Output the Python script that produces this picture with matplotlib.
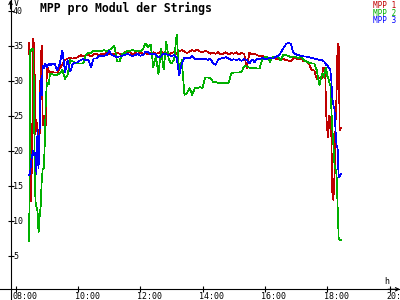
import numpy as np
import matplotlib
matplotlib.use('Agg')
import matplotlib.pyplot as plt
from matplotlib.transforms import ScaledTranslation

# sampling grid: minutes after 08:00
minutes = list(range(26, 70, 2)) + list(range(70, 590, 5)) + list(range(588, 628, 2))

mpp1 = [35.4, 24, 12.8, 23.5, 36.1, 34, 22.3, 24.5, 22.5, 23, 21.7, 33, 35.0, 23.6, 25, 24, 23.6, 31.9, 31.9, 31.3, 31.2, 31.3,
        31.3, 31.2, 31.2, 31.8, 32.4, 33.0, 33.2, 33.3, 33.2, 33.3, 33.4, 33.7,
        33.5, 33.7, 33.8, 33.5, 33.8, 33.9, 33.7, 33.9, 33.8, 34.0, 33.8, 33.9,
        33.8, 34.0, 33.9, 33.8, 34.1, 34.0, 34.1, 33.8, 34.0, 33.9, 34.1, 33.9,
        34.0, 33.8, 34.0, 34.1, 33.9, 34.0, 34.2, 33.9, 34.0, 33.8, 34.0, 34.1,
        33.9, 34.3, 34.4, 34.2, 34.0, 34.2, 34.4, 34.3, 34.5, 34.2, 34.1, 34.3,
        34.2, 33.9, 34.0, 33.9, 34.1, 33.8, 33.9, 34.1, 33.8, 34.0, 33.9, 34.1,
        33.8, 34.0, 33.9, 31.8, 34.0, 33.8, 33.9, 33.7, 33.5, 33.6, 33.3, 33.2,
        33.0, 33.3, 33.2, 33.1, 33.0, 33.2, 33.0, 32.9, 32.8, 33.3, 33.2, 33.1,
        33.2, 32.8, 32.8, 32.4, 31.6, 31.5, 30.3, 30.5,
        30.5, 30.4, 31.9, 31.9, 31.8, 25.4, 23, 22, 25, 24.8, 22, 13.7, 13, 16.5, 23.9, 28, 35.3, 35.3, 23, 23.3]

mpp2 = [7.1, 34.4, 34.3, 34.6, 34.5, 22, 12.8, 12.0, 11.5, 8.3, 10.5, 12, 15.5, 17.5, 17.5, 21, 27.3, 29.7, 29.5, 29.6, 31.1, 31.0,
        31.0, 30.8, 30.9, 31.1, 31.6, 30.3, 30.9, 33.0, 32.8, 32.5, 32.5, 32.5,
        32.5, 33.7, 34.0, 34.0, 34.3, 34.3, 34.3, 34.3, 34.4, 34.3, 34.4, 34.7,
        35.0, 32.8, 32.8, 33.9, 34.0, 34.3, 34.3, 34.4, 34.3, 34.3, 34.2, 34.5,
        35.4, 34.8, 35.2, 32.0, 33.5, 30.9, 34.6, 31.6, 35.6, 33.0, 32.5, 33.0,
        36.6, 31.3, 33.0, 28.0, 28.3, 29.0, 28.0, 29.0, 29.0, 29.1, 29.0, 30.5,
        30.5, 30.4, 29.9, 29.9, 29.7, 29.7, 29.7, 29.7, 29.7, 31.1, 31.2, 31.2,
        31.2, 31.3, 32.1, 32.1, 31.9, 31.9, 31.9, 31.8, 31.8, 33.2, 33.4, 33.4,
        32.7, 33.5, 33.5, 33.5, 32.9, 33.7, 33.7, 33.6, 33.4, 33.5, 33.4, 33.3,
        33.5, 33.0, 32.8, 32.6, 32.5, 32.5, 31.5, 29.4,
        30.5, 31.0, 31.0, 30.5, 31.5, 31.9, 30.7, 30.5, 29.8, 29.5, 26.0, 23.0, 20.8, 18.0, 17.5, 16.7, 12.0, 7.7, 7.3, 7.3]

mpp3 = [16.5, 17.0, 18.6, 19.5, 20.0, 19.4, 19.8, 16.7, 23.0, 17.5, 22.6, 30.4, 28.0, 32.2, 31.8, 32.4, 32.3, 32.0, 32.4, 32.2, 32.4, 32.3,
        32.4, 32.5, 31.5, 32.5, 34.4, 31.2, 33.0, 31.3, 32.5, 32.6, 32.7, 33.0,
        33.1, 33.0, 33.0, 31.9, 33.2, 33.2, 33.6, 33.5, 33.6, 33.7, 34.3, 33.7,
        33.6, 33.4, 33.5, 33.6, 33.7, 33.9, 33.7, 33.6, 33.7, 33.9, 33.6, 33.7,
        34.2, 34.1, 33.8, 33.9, 33.8, 33.4, 33.5, 33.9, 33.8, 33.7, 33.6, 33.7,
        33.4, 30.8, 32.5, 33.3, 33.2, 33.3, 33.6, 33.2, 33.1, 33.2, 33.1, 33.2,
        33.0, 33.2, 32.5, 32.3, 33.1, 33.2, 33.3, 33.4, 33.2, 33.0, 33.1, 33.0,
        33.1, 32.9, 33.1, 33.0, 32.5, 33.1, 32.7, 33.2, 33.1, 33.3, 33.1, 33.2,
        33.3, 33.2, 33.4, 33.6, 34.0, 34.6, 35.2, 35.5, 35.3, 34.0, 33.8, 33.7,
        33.6, 33.5, 33.5, 33.4, 33.3, 33.2, 33.1, 33.0,
        33.0, 33.0, 32.8, 32.8, 32.6, 32.3, 32.3, 32.0, 31.8, 31.6, 30.0, 27.5, 26.5, 26.0, 23.0, 20.8, 20.5, 16.3, 16.4, 16.7]

series_names = ['MPP 1', 'MPP 2', 'MPP 3']
series_colors = ['#c00000', '#00b000', '#0000ff']
y_ticks = [5, 10, 15, 20, 25, 30, 35, 40]
x_ticks = [8, 10, 12, 14, 16, 18, 20]
x_labels = ['08:00', '10:00', '12:00', '14:00', '16:00', '18:00', '20:00']
title = 'MPP pro Modul der Strings'

mono = 'DejaVu Sans Mono'
hours = 8 + np.array(minutes) / 60.0

fig = plt.figure(figsize=(4, 3), dpi=100)
fig.patch.set_facecolor('white')
ax = fig.add_axes([0, 0, 1, 1])
ax.set_facecolor('white')
ax.set_xlim(7.496, 20.337)
ax.set_ylim(-1.286, 41.571)

for vals, c in zip([mpp1, mpp2, mpp3], series_colors):
    ax.plot(hours, vals, color=c, lw=0.5, antialiased=False, solid_joinstyle='miter')

for s in ['top', 'right']:
    ax.spines[s].set_visible(False)
ax.spines['left'].set_position(('axes', 10.5 / 400))
ax.spines['bottom'].set_position(('axes', 10.7 / 300))
for s in ['left', 'bottom']:
    ax.spines[s].set_linewidth(0.8)
    ax.spines[s].set_color('black')

ax.set_yticks(y_ticks)
ax.set_yticklabels([str(v) for v in y_ticks], family=mono, fontsize=6)
ax.set_xticks(x_ticks)
ax.set_xticklabels(x_labels, family=mono, fontsize=6)
ax.tick_params(axis='both', direction='inout', length=4, width=0.8, colors='black')
ax.tick_params(axis='y', pad=-3.8)
ax.tick_params(axis='x', pad=0.3)
for lbl in ax.get_yticklabels():
    lbl.set_ha('left')
off = ScaledTranslation(-3.5 / 100, 0, fig.dpi_scale_trans)
for lbl in ax.get_xticklabels():
    lbl.set_ha('left')
    lbl.set_transform(lbl.get_transform() + off)

# axis arrows
ax.annotate('', xy=(10.5 / 400, 1.0), xytext=(10.5 / 400, 0.97), xycoords='axes fraction',
            arrowprops=dict(arrowstyle='->', lw=0.8, color='black', shrinkA=0, shrinkB=0, mutation_scale=6))
ax.annotate('', xy=(1.0, 10.7 / 300), xytext=(0.97, 10.7 / 300), xycoords='axes fraction',
            arrowprops=dict(arrowstyle='->', lw=0.8, color='black', shrinkA=0, shrinkB=0, mutation_scale=6))

fig.text(13.5 / 400, 1 - 3.5 / 300, 'V', family=mono, fontsize=6, ha='left', va='center')
fig.text(387 / 400, 1 - 281.5 / 300, 'h', family=mono, fontsize=6, ha='center', va='center')

fig.text(40 / 400, 1 - 8 / 300, title, family=mono, fontsize=8.3, fontweight='bold', ha='left', va='center')

for i, (n, c) in enumerate(zip(series_names, series_colors)):
    fig.text(396 / 400, 1 - (5 + 7.4 * i) / 300, n, color=c, family=mono, fontsize=5.6,
             ha='right', va='center_baseline')

fig.savefig('out.png', dpi=100, facecolor='white')
